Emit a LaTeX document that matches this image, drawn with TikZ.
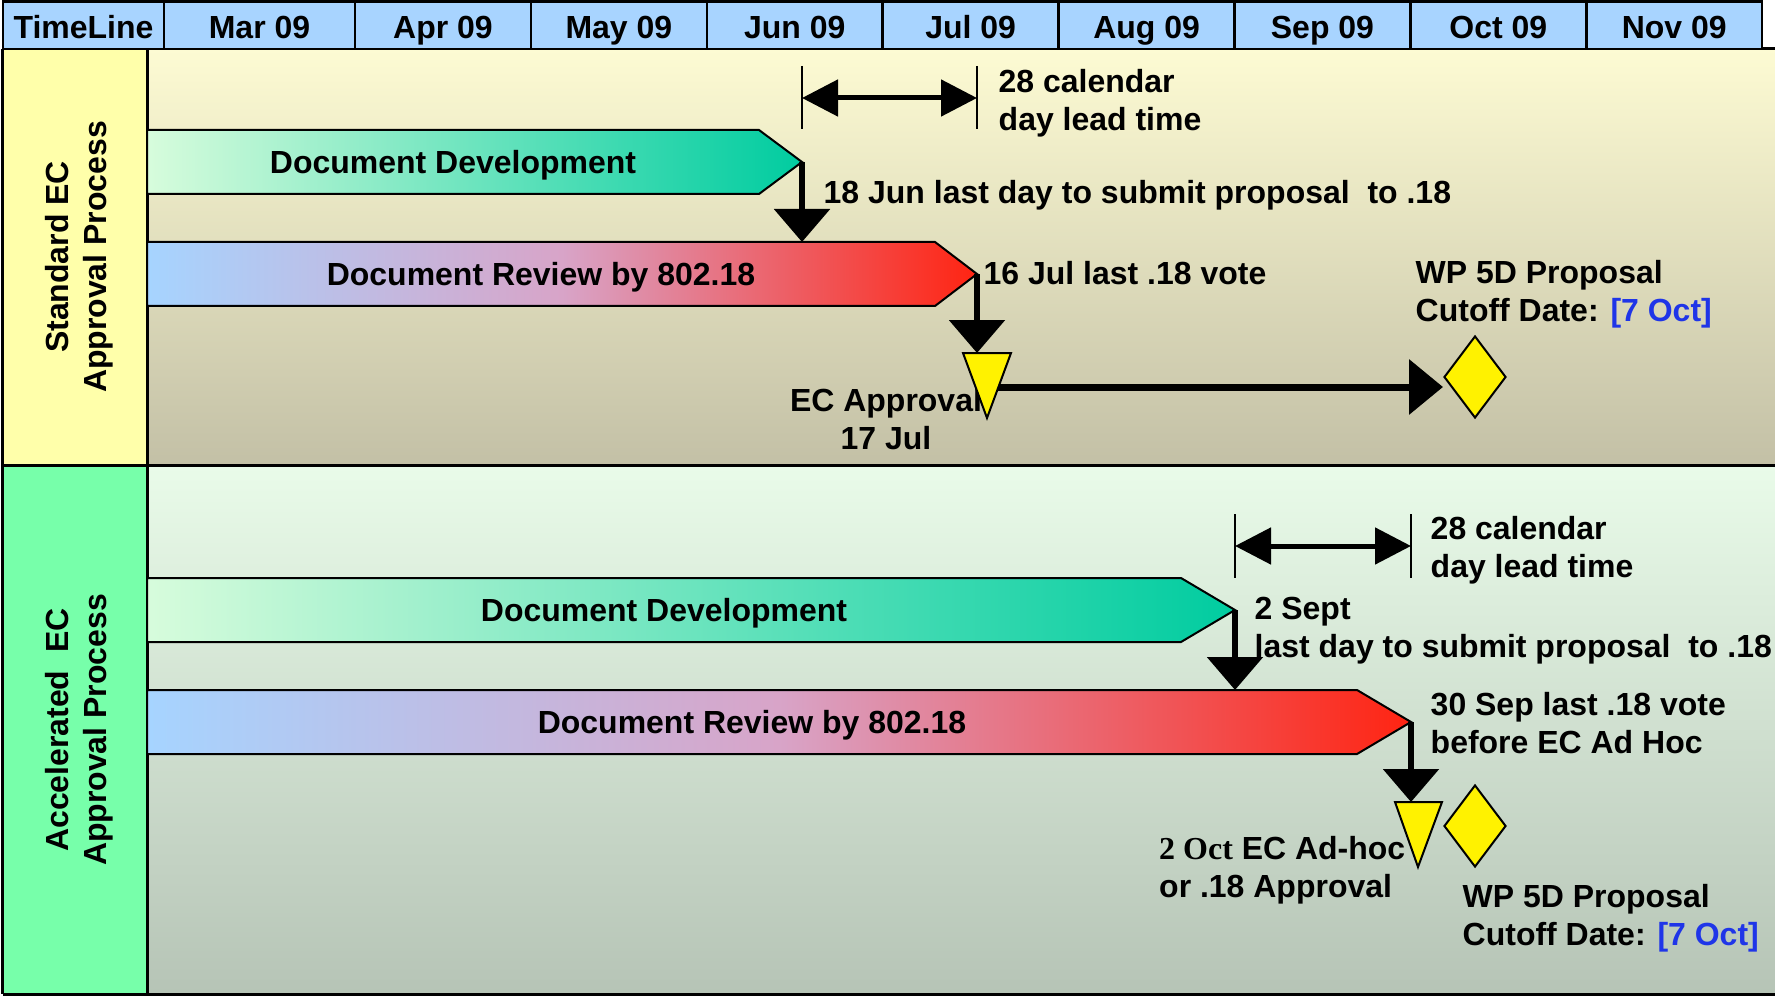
\documentclass[tikz,border=0pt]{standalone}
\usepackage{fontspec}
\setmainfont{Liberation Sans}
\newfontfamily\timesfont{Liberation Serif}
\usetikzlibrary{positioning,arrows.meta,shapes.geometric}

\definecolor{head_blue}{HTML}{A8D4FF}
\definecolor{std_top}{HTML}{FDFBD3}
\definecolor{std_bottom}{HTML}{C3C0A6}
\definecolor{acc_top}{HTML}{E9FBE9}
\definecolor{acc_bottom}{HTML}{B6C4B6}
\definecolor{std_cell}{HTML}{FFFFAA}
\definecolor{acc_cell}{HTML}{77FFAA}
\definecolor{dev_light}{HTML}{D7FCDC}
\definecolor{dev_dark}{HTML}{00CCA0}
\definecolor{rev_blue}{HTML}{A6D4FF}
\definecolor{rev_pink}{HTML}{D8A4C8}
\definecolor{rev_red}{HTML}{FF2412}
\definecolor{link_blue}{HTML}{1F35E8}

\begin{document}
\begin{tikzpicture}[
        font=\bfseries\fontsize{9.1}{10.8}\selectfont,
        head_cell/.style={draw=black, line width=0.25mm, fill=head_blue, minimum height=4.75mm, inner sep=0, text height=7.7pt, text depth=0pt},
        lane_line/.style={draw=black, line width=0.3mm},
        dev_bar/.style={draw=black, line width=0.2mm, left color=dev_light, right color=dev_dark},
        rev_bar/.style={draw=black, line width=0.2mm, left color=rev_blue, right color=rev_red, middle color=rev_pink},
        bar_txt/.style={inner sep=0, text height=6.6pt, text depth=0pt},
        drop_arrow/.style={line width=0.6mm, -{Triangle[length=3.3mm,width=5.5mm]}},
        flow_arrow/.style={line width=0.7mm, -{Triangle[length=3.4mm,width=5.4mm]}},
        lead_arrow/.style={line width=0.5mm, {Triangle[length=3.6mm,width=3.6mm]}-{Triangle[length=3.6mm,width=3.6mm]}},
        lead_tick/.style={line width=0.2mm},
        mile_tri/.style={draw=black, fill=yellow, line width=0.2mm},
        mile_dia/.style={diamond, draw=black, fill=yellow, line width=0.2mm, minimum width=6.2mm, minimum height=8.2mm, inner sep=0},
        txt/.style={anchor=west, inner sep=0, align=left}
        ]
            \useasboundingbox (0,0) rectangle (17.75,-9.96);

            % Lanes
            \shade[top color=std_top, bottom color=std_bottom] (1.47,-0.49) rectangle (17.75,-4.65);
            \shade[top color=acc_top, bottom color=acc_bottom] (1.47,-4.65) rectangle (17.75,-9.94);
            \fill[std_cell] (0.03,-0.49) rectangle (1.47,-4.65);
            \fill[acc_cell] (0.03,-4.65) rectangle (1.47,-9.94);
            \draw[lane_line] (0.03,-0.49) -- (17.75,-0.49);
            \draw[lane_line] (0.03,-4.65) -- (17.75,-4.65);
            \draw[lane_line] (0.03,-9.94) -- (17.75,-9.94);
            \draw[lane_line] (0.03,-0.49) -- (0.03,-9.94);
            \draw[lane_line] (1.47,-0.49) -- (1.47,-9.94);
            \node[rotate=90, align=center] (lane_std) at (0.79,-2.57) {Standard EC\\Approval Process};
            \node[rotate=90, align=center] (lane_acc) at (0.79,-7.30) {Accelerated~~EC\\Approval Process};

            % timeline
            \node[head_cell, minimum width=16.1mm] (head_tl)  at (0.835,-0.2525) {TimeLine};
            \node[head_cell, minimum width=19.1mm] (head_mar) at (2.595,-0.2525) {Mar 09};
            \foreach \m [count=\i from 0] in {Apr 09, May 09, Jun 09, Jul 09, Aug 09, Sep 09, Oct 09, Nov 09}
                \node[head_cell, minimum width=17.59mm] (head_\i) at ({4.4295+\i*1.759},-0.2525) {\m};

            % standard process
            \shadedraw[dev_bar] (1.47,-1.30) -- (7.59,-1.30) -- (8.02,-1.62) -- (7.59,-1.94) -- (1.47,-1.94) -- cycle;
            \node[bar_txt] (dev_a) at (4.53,-1.62) {Document Development};
            \shadedraw[rev_bar] (1.47,-2.42) -- (9.35,-2.42) -- (9.77,-2.74) -- (9.35,-3.06) -- (1.47,-3.06) -- cycle;
            \node[bar_txt] (rev_a) at (5.41,-2.74) {Document Review by 802.18};
            \coordinate (dev_a_tip) at (8.02,-1.62);
            \coordinate (rev_a_top) at (8.02,-2.42);
            \coordinate (rev_a_tip) at (9.77,-2.74);
            \coordinate (ec_a_top)  at (9.77,-3.53);
            \coordinate (ec_a_mid)  at (9.95,-3.87);

            \node[txt] (lead_a)   at (9.98,-1.03)  {28 calendar\\day lead time};
            \node[txt] (submit_a) at (8.23,-1.95)  {18 Jun last day to submit proposal~~to .18};
            \node[txt] (vote_a)   at (9.83,-2.73)  {16 Jul last .18 vote};
            \node[txt] (wp_a)     at (14.15,-2.94) {WP 5D Proposal\\Cutoff Date: {\color{link_blue}[7 Oct]}};
            \node[align=center, inner sep=0] (ec_a) at (8.86,-4.19) {EC Approval\\17 Jul};

            \draw[lead_tick] (8.02,-0.66) -- (8.02,-1.29);
            \draw[lead_tick] (9.77,-0.66) -- (9.77,-1.29);
            \draw[lead_arrow] (8.02,-0.98) -- (9.77,-0.98);

            \node[mile_dia] (wp_dia_a) at (14.75,-3.77) {};
            \draw[drop_arrow] (dev_a_tip) -- (rev_a_top);
            \draw[drop_arrow] (rev_a_tip) -- (ec_a_top);
            \draw[flow_arrow] (ec_a_mid) -- (ec_a_mid -| wp_dia_a.west);
            \filldraw[mile_tri] (9.63,-3.53) -- (10.11,-3.53) -- (9.87,-4.18) -- cycle;

            % accelerated process
            \shadedraw[dev_bar] (1.47,-5.78) -- (11.81,-5.78) -- (12.35,-6.10) -- (11.81,-6.42) -- (1.47,-6.42) -- cycle;
            \node[bar_txt] (dev_b) at (6.64,-6.10) {Document Development};
            \shadedraw[rev_bar] (1.47,-6.90) -- (13.57,-6.90) -- (14.11,-7.22) -- (13.57,-7.54) -- (1.47,-7.54) -- cycle;
            \node[bar_txt] (rev_b) at (7.52,-7.22) {Document Review by 802.18};
            \coordinate (dev_b_tip) at (12.35,-6.10);
            \coordinate (rev_b_top) at (12.35,-6.90);
            \coordinate (rev_b_tip) at (14.11,-7.22);
            \coordinate (ec_b_top)  at (14.11,-8.02);

            \node[txt] (lead_b)   at (14.30,-5.505) {28 calendar\\day lead time};
            \node[txt] (submit_b) at (12.54,-6.31)  {2 Sept\\last day to submit proposal~~to .18};
            \node[txt] (vote_b)   at (14.30,-7.235) {30 Sep last .18 vote\\before EC Ad Hoc};
            \node[txt] (ec_b)     at (11.585,-8.70) {{\timesfont 2 Oct} EC Ad-hoc\\or .18 Approval};
            \node[txt] (wp_b)     at (14.62,-9.185) {WP 5D Proposal\\Cutoff Date: {\color{link_blue}[7 Oct]}};

            \draw[lead_tick] (12.35,-5.14) -- (12.35,-5.78);
            \draw[lead_tick] (14.11,-5.14) -- (14.11,-5.78);
            \draw[lead_arrow] (12.35,-5.46) -- (14.11,-5.46);

            \node[mile_dia] (wp_dia_b) at (14.75,-8.26) {};
            \draw[drop_arrow] (dev_b_tip) -- (rev_b_top);
            \draw[drop_arrow] (rev_b_tip) -- (ec_b_top);
            \filldraw[mile_tri] (13.95,-8.02) -- (14.42,-8.02) -- (14.18,-8.67) -- cycle;
        \end{tikzpicture}
\end{document}
